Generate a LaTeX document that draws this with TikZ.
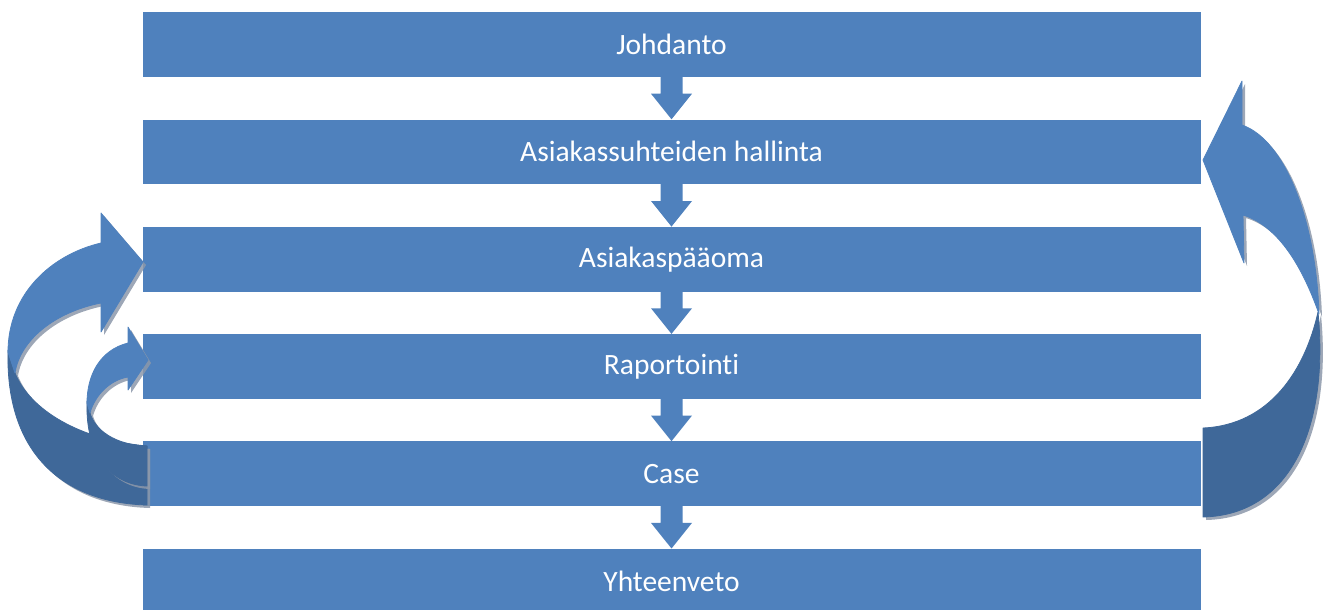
\documentclass[tikz,border=0pt]{standalone}
\usepackage{fontspec}
\setmainfont{Carlito}[Ligatures={NoCommon}]
\usetikzlibrary{calc}
\definecolor{boxblue}{RGB}{79,129,189}
\definecolor{darkblue}{RGB}{63,104,153}
\definecolor{shadowgray}{RGB}{140,152,170}
\tikzset{
  stagebox/.style={rectangle, fill=boxblue, draw=none, inner sep=0pt,
    minimum width=1058pt, minimum height=64.7pt, anchor=north west,
    text=white, font=\fontsize{29.5}{34}\selectfont},
  frontpart/.style={fill=boxblue, draw=boxblue, line width=0.8pt, line join=round},
  backpart/.style={fill=darkblue, draw=darkblue, line width=0.8pt, line join=round},
  shadowpart/.style={fill=shadowgray, fill opacity=0.85, shift={(3,3)}},
}
% curved arrow outlines (picture units, y downward)
\newcommand{\rfront}{(1203,160) -- (1242,81) -- (1242,125) .. controls (1285,140) and (1316,220) .. (1319,314) .. controls (1300,260) and (1275,225) .. (1243,215) -- (1244,263) -- cycle}
\newcommand{\rback}{(1318,312) .. controls (1329,425) and (1292,515) .. (1203,517) -- (1203,428) .. controls (1270,425) and (1305,370) .. (1318,312) -- cycle}
\newcommand{\lfront}{(143,262) -- (101,213) -- (101,243) .. controls (50,255) and (8,295) .. (8,352) -- (15,373) .. controls (20,340) and (55,312) .. (101,303) -- (101,332) -- cycle}
\newcommand{\lback}{(8,350) .. controls (5,460) and (70,503) .. (147,505) -- (147,446) .. controls (80,440) and (30,410) .. (15,373) -- cycle}
\newcommand{\sfront}{(148,360) -- (128,327) -- (128,343) .. controls (100,350) and (87,375) .. (87,403) -- (90,413) .. controls (95,395) and (110,380) .. (128,377) -- (128,390) -- cycle}
\newcommand{\sback}{(87,401) .. controls (85,460) and (115,485) .. (147,486) -- (147,446) .. controls (115,445) and (95,430) .. (90,413) -- cycle}
\begin{document}
\begin{tikzpicture}[x=1pt,y=-1pt]
\useasboundingbox (0,0) rectangle (1330,610);
\node[stagebox] (b1) at (142.3,12)    {Johdanto};
\node[stagebox] (b2) at (142.3,119.3) {Asiakassuhteiden hallinta};
\node[stagebox] (b3) at (142.3,226.6) {Asiakaspääoma};
\node[stagebox] (b4) at (142.3,333.9) {Raportointi};
\node[stagebox] (b5) at (142.3,441.2) {Case};
\node[stagebox] (b6) at (142.3,548.5) {Yhteenveto};
\foreach \a/\b in {b1/b2,b2/b3,b3/b4,b4/b5,b5/b6}
  \fill[boxblue] ($(\a.south)+(-11,-1)$) -- ($(\a.south)+(-11,16.6)$)
    -- ($(\a.south)+(-20.5,16.6)$) -- (\b.north)
    -- ($(\a.south)+(20.5,16.6)$) -- ($(\a.south)+(11,16.6)$)
    -- ($(\a.south)+(11,-1)$) -- cycle;
% right arrow
\fill[shadowpart] \rback;
\fill[shadowpart] \rfront;
\filldraw[backpart] \rback;
\filldraw[frontpart] \rfront;
% left large arrow
\fill[shadowpart] \lback;
\fill[shadowpart] \lfront;
\filldraw[backpart] \lback;
\filldraw[frontpart] \lfront;
% left small arrow
\fill[shadowpart] \sback;
\fill[shadowpart] \sfront;
\filldraw[backpart] \sback;
\filldraw[frontpart] \sfront;
\end{tikzpicture}
\end{document}
